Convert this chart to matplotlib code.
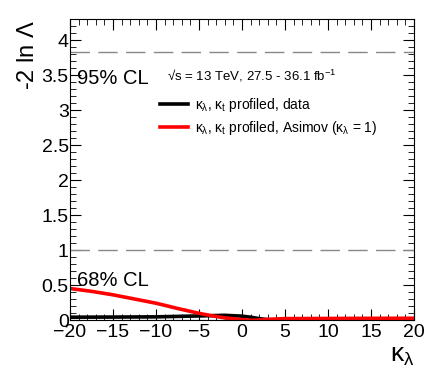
import numpy as np
import matplotlib
matplotlib.use("Agg")
import matplotlib.pyplot as plt
from matplotlib.ticker import MultipleLocator

plt.rcParams['font.family'] = ['Liberation Sans', 'DejaVu Sans']
plt.rcParams['mathtext.fontset'] = 'custom'
plt.rcParams['mathtext.rm'] = 'Liberation Sans'
plt.rcParams['mathtext.it'] = 'Liberation Sans'

# Kurven
kl_data = [-20, -15, -10, -5, -2, 0, 1, 2, 3, 4, 6, 8, 10, 15, 20]
nll_data = [0.04, 0.042, 0.045, 0.058, 0.067, 0.055, 0.04, 0.02, 0.005, 0.0, 0.0, 0.004, 0.008, 0.01, 0.01]

kl_asimov = [-20, -17.5, -15, -12.5, -10, -7.5, -5, -3.5, -2, 0, 1, 2, 3, 5, 10, 15, 20]
nll_asimov = [0.45, 0.41, 0.36, 0.30, 0.24, 0.165, 0.095, 0.06, 0.03, 0.005, -0.005, 0.0, 0.01, 0.02, 0.022, 0.024, 0.025]

cl_levels = [3.84, 1.0]
cl_labels = ["95% CL", "68% CL"]
cl_text_y = [3.38, 0.49]

fig = plt.figure(figsize=(4.36, 3.82), dpi=100)
ax = fig.add_axes([0.1606, 0.1623, 0.789, 0.787])

ax.axhline(0, color='#1a1a80', lw=0.8)
for lvl in cl_levels:
    ax.axhline(lvl, color='#888888', lw=1.0, dashes=(14, 6))

ax.plot(kl_data, nll_data, color='black', lw=2.6,
        label=r"$\kappa_{\lambda}$, $\kappa_{t}$ profiled, data")
ax.plot(kl_asimov, nll_asimov, color='#ff0000', lw=2.6,
        label=r"$\kappa_{\lambda}$, $\kappa_{t}$ profiled, Asimov ($\kappa_{\lambda}$ = 1)")

for lab, yy in zip(cl_labels, cl_text_y):
    ax.text(-19.2, yy, lab, fontsize=14.5, ha='left', va='baseline')

ax.text(0.282, 0.797, "√s = 13 TeV, 27.5 - 36.1 fb$^{-1}$",
        transform=ax.transAxes, fontsize=9.5)

ax.legend(loc='upper left', bbox_to_anchor=(0.245, 0.765), frameon=False,
          fontsize=10, handlelength=2.0, handletextpad=0.5, labelspacing=0.4,
          borderaxespad=0)

ax.set_xlim(-20, 20)
ax.set_ylim(0, 4.3)
ax.xaxis.set_major_locator(MultipleLocator(5))
ax.xaxis.set_minor_locator(MultipleLocator(1))
ax.yaxis.set_major_locator(MultipleLocator(0.5))
ax.yaxis.set_minor_locator(MultipleLocator(0.1))
ax.yaxis.set_major_formatter(plt.FuncFormatter(lambda v, p: f"{v:g}"))
ax.tick_params(which='both', direction='in', top=True, right=True, labelsize=14)
ax.tick_params(which='major', length=8)
ax.tick_params(which='minor', length=4)
ax.tick_params(axis='x', pad=3)
ax.tick_params(axis='y', pad=1)

ax.set_xlabel(r"$\kappa_{\lambda}$", fontsize=19, loc='right', labelpad=2)
ax.set_ylabel(r"-2 ln $\Lambda$", fontsize=17, loc='top', labelpad=2)

fig.savefig("out.png", dpi=100)
